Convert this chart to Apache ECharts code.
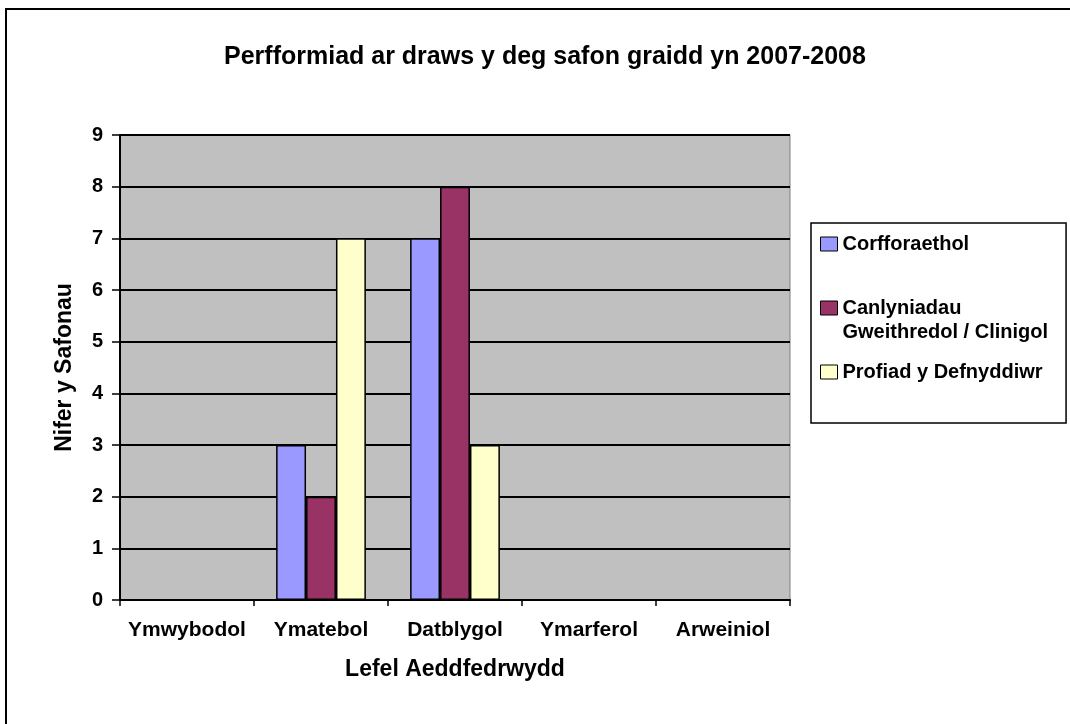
<!DOCTYPE html>
<html>
<head>
<meta charset="utf-8">
<script src="https://cdn.jsdelivr.net/npm/echarts@6/dist/echarts.min.js"></script>
<style>
html, body { margin: 0; padding: 0; background: #fff; }
#chart { width: 1070px; height: 724px; }
</style>
</head>
<body>
<div id="chart"></div>
<script>
// lefelau aeddfedrwydd (x axis)
var categories = ['Ymwybodol', 'Ymatebol', 'Datblygol', 'Ymarferol', 'Arweiniol'];
var seriesNames = ['Corfforaethol', 'Canlyniadau Gweithredol / Clinigol', 'Profiad y Defnyddiwr'];
var corfforaethol = [0, 3, 7, 0, 0];
var canlyniadau = [0, 2, 8, 0, 0];
var profiad = [0, 7, 3, 0, 0];
var colors = ['#9999FF', '#993366', '#FFFFCC'];

var font = "'Liberation Sans', Arial, sans-serif";
var chart = echarts.init(document.getElementById('chart'), null, { renderer: 'canvas' });

function barSeries(name, data, i) {
    return {
        name: name,
        type: 'bar',
        data: data,
        barGap: '0%',
        barCategoryGap: '33%',
        itemStyle: { color: colors[i], borderColor: '#000', borderWidth: 1.5 }
    };
}

chart.setOption({
    animation: false,
    backgroundColor: '#fff',
    textStyle: { fontFamily: font },
    title: {
        text: 'Perfformiad ar draws y deg safon graidd yn 2007-2008',
        left: 219,
        top: 40,
        textStyle: { fontFamily: font, fontSize: 25, fontWeight: 'bold', color: '#000' }
    },
    graphic: [{
        type: 'rect',
        shape: { x: 6, y: 9, width: 1200, height: 900 },
        style: { fill: 'none', stroke: '#000', lineWidth: 2 },
        silent: true
    }],
    legend: {
        orient: 'vertical',
        left: 811,
        top: 223,
        padding: [9, 18, 39, 9],
        borderColor: '#000',
        borderWidth: 1.5,
        itemWidth: 17,
        itemHeight: 14,
        itemGap: 16,
        icon: 'rect',
        itemStyle: { borderColor: '#000', borderWidth: 1 },
        data: seriesNames,
        formatter: function (name) {
            // legend text is wrapped onto two lines, marker on the first
            if (name === seriesNames[1]) return ' \nCanlyniadau\nGweithredol / Clinigol';
            return name;
        },
        textStyle: { fontFamily: font, fontSize: 20, fontWeight: 'bold', color: '#000', lineHeight: 24 }
    },
    grid: {
        left: 120, top: 135, width: 670, height: 465,
        show: true,
        backgroundColor: '#C0C0C0',
        borderColor: '#808080',
        borderWidth: 1,
        outerBoundsMode: 'none'
    },
    xAxis: {
        type: 'category',
        data: categories,
        name: 'Lefel Aeddfedrwydd',
        nameLocation: 'middle',
        nameGap: 58,
        nameTextStyle: { fontFamily: font, fontSize: 23, fontWeight: 'bold', color: '#000' },
        axisLine: { lineStyle: { color: '#000', width: 2 } },
        axisTick: { show: true, length: 6, lineStyle: { color: '#000', width: 1.5 } },
        axisLabel: { interval: 0, margin: 20, fontFamily: font, fontSize: 21, fontWeight: 'bold', color: '#000' },
        splitLine: { show: false }
    },
    yAxis: {
        type: 'value',
        min: 0,
        max: 9,
        interval: 1,
        name: 'Nifer y Safonau',
        nameLocation: 'middle',
        nameGap: 44,
        nameTextStyle: { fontFamily: font, fontSize: 23, fontWeight: 'bold', color: '#000' },
        axisLine: { show: true, lineStyle: { color: '#000', width: 2 } },
        axisTick: { show: true, length: 8, lineStyle: { color: '#000', width: 1.5 } },
        axisLabel: { margin: 17, fontFamily: font, fontSize: 20, fontWeight: 'bold', color: '#000' },
        splitLine: { lineStyle: { color: '#000', width: 2 } }
    },
    series: [
        barSeries(seriesNames[0], corfforaethol, 0),
        barSeries(seriesNames[1], canlyniadau, 1),
        barSeries(seriesNames[2], profiad, 2)
    ]
});
</script>
</body>
</html>
